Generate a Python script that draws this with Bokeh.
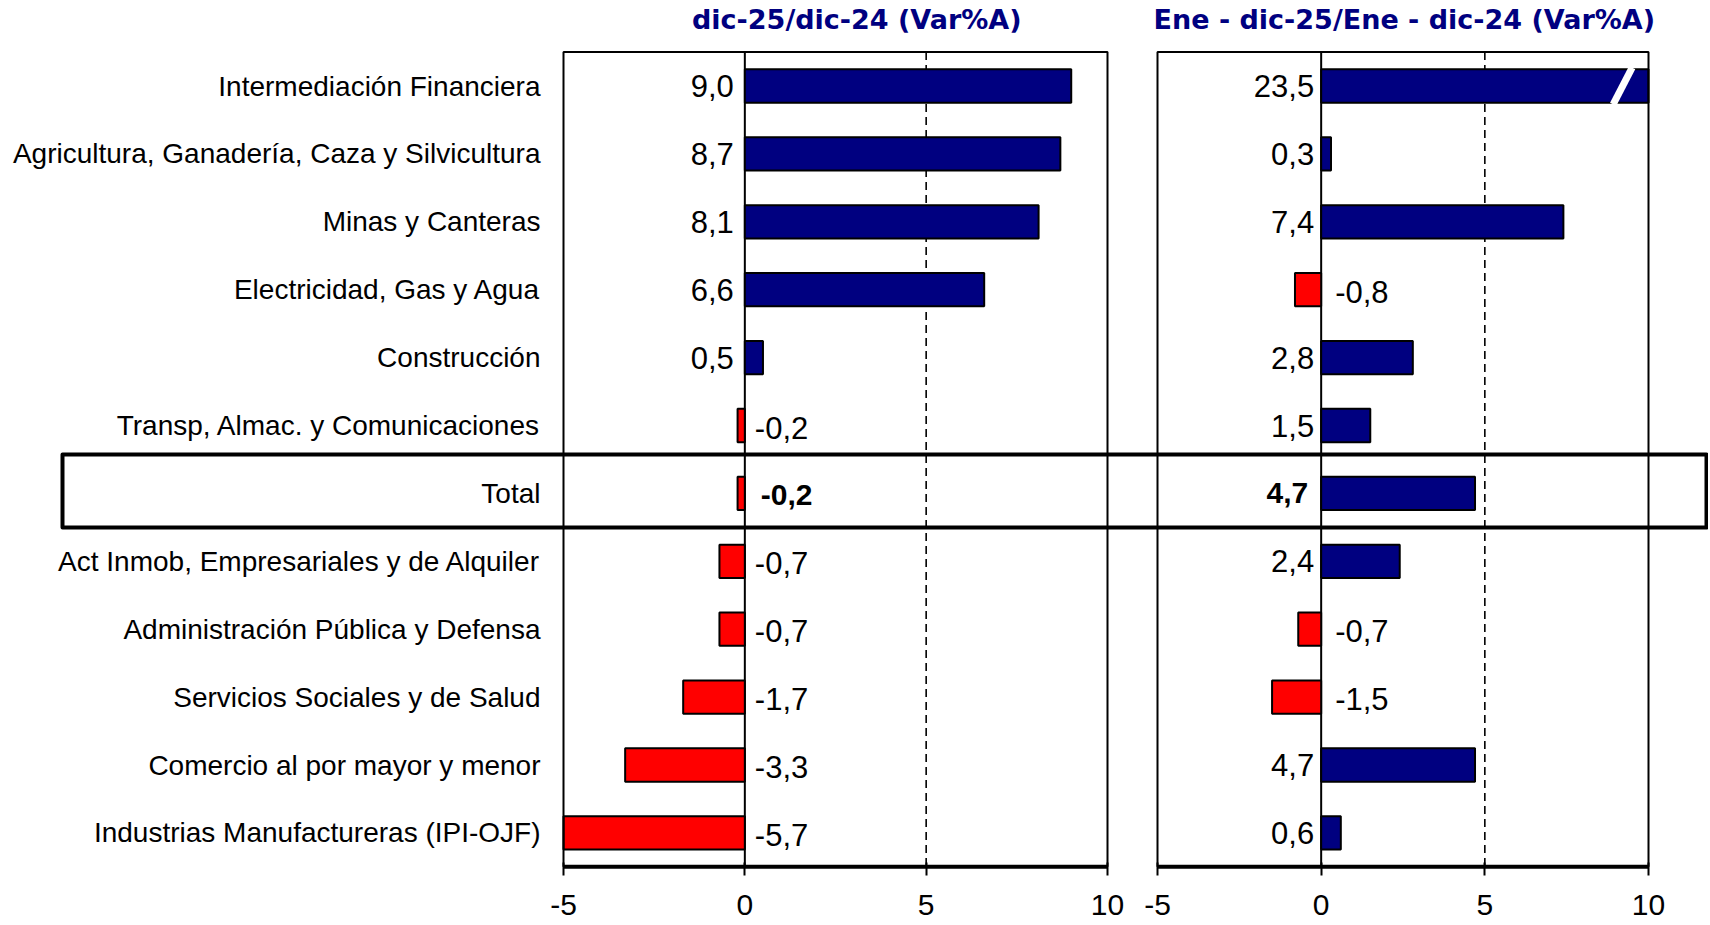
import numpy as np
from bokeh.plotting import figure
from bokeh.models import ColumnDataSource, Range1d, FixedTicker, LinearAxis
from bokeh.core.properties import value
from bokeh.embed import file_html
from bokeh.resources import INLINE

# ---------------- data ----------------
categories = [
    "Intermediación Financiera",
    "Agricultura, Ganadería, Caza y Silvicultura",
    "Minas y Canteras",
    "Electricidad, Gas y Agua",
    "Construcción",
    "Transp, Almac. y Comunicaciones",
    "Total",
    "Act Inmob, Empresariales y de Alquiler",
    "Administración Pública y Defensa",
    "Servicios Sociales y de Salud",
    "Comercio al por mayor y menor",
    "Industrias Manufactureras (IPI-OJF)",
]
var_dic = [9.0, 8.7, 8.1, 6.6, 0.5, -0.2, -0.2, -0.7, -0.7, -1.7, -3.3, -5.7]
var_acum = [23.5, 0.3, 7.4, -0.8, 2.8, 1.5, 4.7, 2.4, -0.7, -1.5, 4.7, 0.6]
x_ticks = [-5, 0, 5, 10]
tick_labels = ["-5", "0", "5", "10"]
titles = ["dic-25/dic-24  (Var%A)", "Ene - dic-25/Ene - dic-24  (Var%A)"]
highlight = "Total"

# ---------------- style / layout ----------------
NAVY = "#000080"
RED = "#FF0000"
FONT = "Liberation Sans, Arial, sans-serif"
TFONT = "DejaVu Sans, Verdana, sans-serif"

XMIN, XMAX = x_ticks[0], x_ticks[-1]
n = len(categories)
ys = np.arange(n)
i_tot = categories.index(highlight)

W, H = 1708, 924
ROW_PX = 67.9       # row pitch in px
ROW0_PX = 85.5      # y of first row centre
PANEL_A_PX = (563.0, 1107.0)
PANEL_B_PX = (1157.0, 1648.0)
BOX_PX = (62.0, 1706.0)

Y_TOP = -ROW0_PX / ROW_PX
Y_BOT = Y_TOP + H / ROW_PX


def x_range_for(px):
    s = (px[1] - px[0]) / (XMAX - XMIN)
    start = XMIN - px[0] / s
    return start, start + W / s, s


ax0, ax1, sA = x_range_for(PANEL_A_PX)
bx0, bx1, sB = x_range_for(PANEL_B_PX)

p = figure(width=W, height=H, x_range=Range1d(ax0, ax1),
           y_range=Range1d(Y_BOT, Y_TOP), output_backend="svg",
           toolbar_location=None, y_axis_location=None, min_border=0,
           title=None)
p.extra_x_ranges = {"B": Range1d(bx0, bx1)}
p.outline_line_color = None
p.grid.visible = False
p.background_fill_color = "white"
p.border_fill_color = "white"

# highlighted Total box (spans the whole width)
p.quad(left=[ax0 + BOX_PX[0] / sA], right=[ax0 + BOX_PX[1] / sA],
       top=[i_tot - 0.573], bottom=[i_tot + 0.502],
       fill_color=None, line_color="black", line_width=4, line_join="round")


def draw_panel(vals, title, rng, pos_off, neg_off, title_dx):
    kw = {} if rng is None else {"x_range_name": rng}
    v = np.array(vals, dtype=float)

    # reference lines
    p.segment(x0=[5], x1=[5], y0=[-0.5], y1=[n - 0.5], line_color="black",
              line_width=1.6, line_dash="8 5", **kw)
    p.segment(x0=[0], x1=[0], y0=[-0.5], y1=[n - 0.5], line_color="black",
              line_width=2, **kw)

    # bars
    left = np.clip(np.minimum(v, 0), XMIN, XMAX)
    right = np.clip(np.maximum(v, 0), XMIN, XMAX)
    colors = [NAVY if a >= 0 else RED for a in v]
    p.hbar(y=ys, left=left, right=right, height=0.49, fill_color=colors,
           line_color="black", line_width=2, **kw)

    # axis break marks for bars beyond the scale
    over = ys[v > XMAX]
    if len(over):
        p.segment(x0=[XMAX - 1.08] * len(over), x1=[XMAX - 0.5] * len(over),
                  y0=over + 0.27, y1=over - 0.27, line_color="white",
                  line_width=7, **kw)

    # panel border
    p.multi_line(xs=[[XMIN, XMIN, XMAX, XMAX]], ys=[[n - 0.5, -0.5, -0.5, n - 0.5]],
                 line_color="black", line_width=2, **kw)
    p.segment(x0=[XMIN], x1=[XMAX], y0=[n - 0.5], y1=[n - 0.5],
              line_color="black", line_width=4, **kw)

    # value labels
    is_tot = [c == highlight for c in categories]
    txt = [f"{a:.1f}".replace(".", ",") for a in v]
    src = ColumnDataSource(dict(
        x=np.zeros(n), y=ys, text=txt,
        align=["right" if a >= 0 else "left" for a in v],
        xo=[(pos_off - (6 if t else 0)) if a >= 0 else (neg_off + (6 if t else 0))
            for a, t in zip(v, is_tot)],
        yo=[0 if a >= 0 else 2 for a in v],
        style=["bold" if t else "normal" for t in is_tot],
        size=["30px" if t else "31px" for t in is_tot],
    ))
    p.text(x="x", y="y", text="text", source=src, text_align="align",
           x_offset="xo", y_offset="yo", text_font_style="style",
           text_baseline="middle", text_font=value(FONT),
           text_font_size="size", text_color="black", **kw)

    # title
    p.text(x=[(XMIN + XMAX) / 2], y=[Y_TOP], text=[title], x_offset=title_dx,
           y_offset=19, text_align="center", text_baseline="alphabetic",
           text_font=value(TFONT), text_font_style="bold",
           text_font_size="27px", text_color=NAVY, **kw)


draw_panel(var_dic, titles[0], None, -11, 10, 26)
draw_panel(var_acum, titles[1], "B", -7, 14, 6)

# category labels
p.text(x=[XMIN] * n, y=ys, text=categories, x_offset=-23,
       text_align="right", text_baseline="middle",
       text_font=value(FONT), text_font_size="28px", text_color="black")

# axes (one per panel, both sitting on the panels' bottom border)
axA = p.xaxis[0]
axB = LinearAxis(x_range_name="B")
p.add_layout(axB, "below")
for ax in (axA, axB):
    ax.fixed_location = n - 0.5
    ax.ticker = FixedTicker(ticks=x_ticks)
    ax.major_label_overrides = dict(zip(x_ticks, tick_labels))
    ax.axis_line_color = None
    ax.major_tick_line_color = "black"
    ax.major_tick_line_width = 2
    ax.major_tick_out = 9
    ax.major_tick_in = 4
    ax.minor_tick_line_color = None
    ax.major_label_standoff = 19
    ax.major_label_text_font = FONT
    ax.major_label_text_font_size = "30px"
    ax.major_label_text_color = "black"

open("out.html", "w").write(file_html(p, INLINE))
